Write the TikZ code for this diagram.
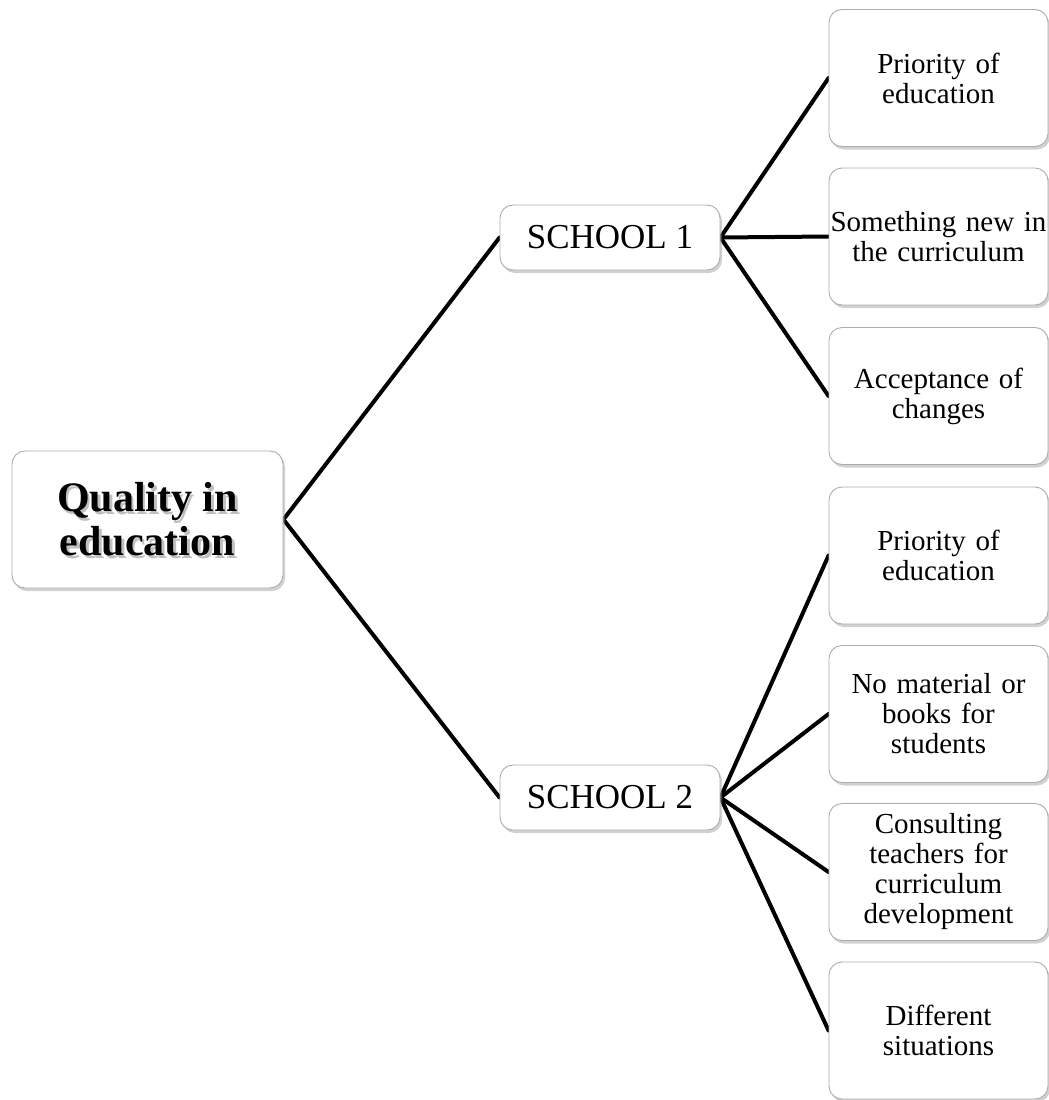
\documentclass[tikz,border=0pt]{standalone}
\usepackage{fontspec}
\setmainfont{Liberation Serif}
\usetikzlibrary{shadows,backgrounds}

\begin{document}
\begin{tikzpicture}[x=1pt,y=-1pt,
  box/.style={draw=gray!65, line width=0.9pt, rounded corners=13pt, fill=white,
    drop shadow={shadow xshift=2pt, shadow yshift=-3pt, opacity=0.45, fill=gray!80},
    align=center, inner sep=0pt},
  leaf/.style={box, minimum width=219pt, minimum height=137pt, text width=216pt,
    font=\fontsize{29}{30}\selectfont},
  school/.style={box, minimum width=220pt, minimum height=65pt,
    font=\fontsize{35}{38}\selectfont},
  roottext/.style={align=center, inner sep=0pt, font=\bfseries\fontsize{42}{44}\selectfont},
  link/.style={line width=4pt, line cap=round}]

\useasboundingbox (0,0) rectangle (1049,1100);

% root box with shaded title text
\node[box, minimum width=271pt, minimum height=137pt] (root) at (147.5,519.5) {};
\node[roottext, text=gray!50] (rootshade) at ([xshift=2.5pt,yshift=-2.5pt]root.center) {Quality in\\education};
\node[roottext] (roottxt) at (root.center) {Quality in\\education};

% schools
\node[school] (s1) at (610,237.5) {SCHOOL 1};
\node[school] (s2) at (610,797.5) {SCHOOL 2};

% leaves
\node[leaf] (a1) at (938.5,78)   {Priority of\\education};
\node[leaf] (a2) at (938.5,236.5){Something new in\\the curriculum};
\node[leaf] (a3) at (938.5,396)  {Acceptance of\\changes};
\node[leaf] (b1) at (938.5,555.5){Priority of\\education};
\node[leaf] (b2) at (938.5,714)  {No material or\\books for\\students};
\node[leaf] (b3) at (938.5,872)  {Consulting\\teachers for\\curriculum\\development};
\node[leaf] (b4) at (938.5,1030.5){Different\\situations};

% connectors
\begin{scope}[on background layer]
  \draw[link] (root.east) -- (s1.west);
  \draw[link] (root.east) -- (s2.west);
  \foreach \t in {a1,a2,a3} \draw[link] (s1.east) -- (\t.west);
  \foreach \t in {b1,b2,b3,b4} \draw[link] (s2.east) -- (\t.west);
\end{scope}
\end{tikzpicture}
\end{document}
